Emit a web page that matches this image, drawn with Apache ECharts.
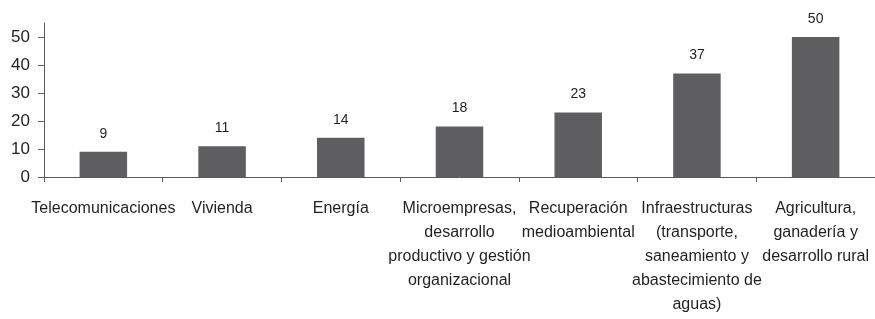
<!DOCTYPE html>
<html>
<head>
<meta charset="utf-8">
<script src="https://cdn.jsdelivr.net/npm/echarts@6/dist/echarts.min.js"></script>
<style>
  html, body { margin: 0; padding: 0; background: #fff; }
  #main { width: 875px; height: 319px; }
</style>
</head>
<body>
<div id="main"></div>
<script>
var categories = [
  'Telecomunicaciones',
  'Vivienda',
  'Energía',
  'Microempresas,\ndesarrollo\nproductivo y gestión\norganizacional',
  'Recuperación\nmedioambiental',
  'Infraestructuras\n(transporte,\nsaneamiento y\nabastecimiento de\naguas)',
  'Agricultura,\nganadería y\ndesarrollo rural'
];
var values = [9, 11, 14, 18, 23, 37, 50];
var yTicks = [0, 10, 20, 30, 40, 50];

var font = "'Liberation Sans', Arial, sans-serif";
var textColor = '#231f20';
var axisColor = '#5a5a5a';

var myChart = echarts.init(document.getElementById('main'));

myChart.setOption({
  backgroundColor: '#fff',
  animation: false,
  grid: {
    left: 44,
    right: -5,
    top: 23,
    bottom: 142,
    containLabel: false
  },
  xAxis: {
    type: 'category',
    data: categories,
    boundaryGap: true,
    axisLine: { lineStyle: { color: axisColor, width: 1 } },
    axisTick: { show: true, length: 5, lineStyle: { color: axisColor } },
    axisLabel: {
      interval: 0,
      margin: 20,
      color: textColor,
      fontFamily: font,
      fontSize: 16,
      lineHeight: 24,
      align: 'center'
    },
    splitLine: { show: false }
  },
  yAxis: {
    type: 'value',
    min: 0,
    max: 55,
    interval: 10,
    axisLine: { show: true, lineStyle: { color: axisColor, width: 1 } },
    axisTick: { show: true, length: 6, customValues: yTicks, lineStyle: { color: axisColor } },
    axisLabel: {
      customValues: yTicks,
      margin: 14,
      color: textColor,
      fontFamily: font,
      fontSize: 17
    },
    splitLine: { show: false }
  },
  series: [{
    type: 'bar',
    data: values,
    barWidth: '40%',
    itemStyle: { color: '#5e5e60' },
    label: {
      show: true,
      position: 'top',
      distance: 11,
      color: textColor,
      fontFamily: font,
      fontSize: 14
    }
  }]
});

window.addEventListener('resize', function () {
  myChart.resize();
});
</script>
</body>
</html>
